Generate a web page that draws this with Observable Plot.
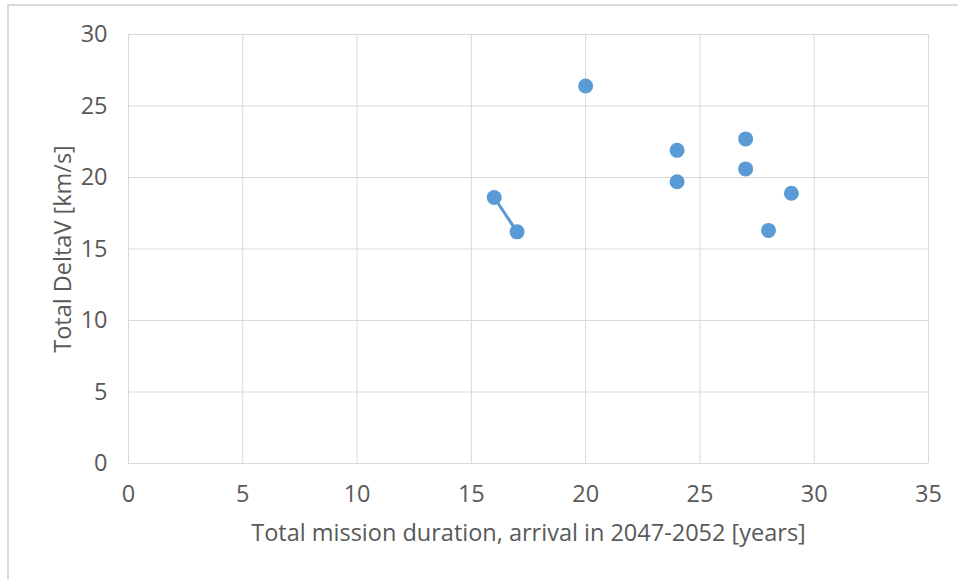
<!DOCTYPE html>
<html>
<head>
<meta charset="utf-8">
<script src="https://cdn.jsdelivr.net/npm/d3@7"></script>
<script src="https://cdn.jsdelivr.net/npm/@observablehq/plot@0.6"></script>
<style>
  html, body { margin: 0; padding: 0; background: #ffffff; }
  #wrap { position: relative; width: 958px; height: 579px; overflow: hidden; }
  #border { position: absolute; left: 7px; top: 4px; right: -10px; bottom: -10px;
            border-top: 2px solid #d9d9d9; border-left: 2px solid #d9d9d9; }
  #chart { position: absolute; left: 0; top: 0; }
</style>
</head>
<body>
<div id="wrap"><div id="border"></div><div id="chart"></div></div>
<script>
const duration = [16, 17, 20, 24, 24, 27, 27, 28, 29];
const deltaV = [18.6, 16.2, 26.4, 21.9, 19.7, 22.7, 20.6, 16.3, 18.9];
const group = ["a", "a", "b", "c", "d", "e", "f", "g", "h"];
const xTicks = [0, 5, 10, 15, 20, 25, 30, 35];
const yTicks = [0, 5, 10, 15, 20, 25, 30];
const xLabel = "Total mission duration, arrival in 2047-2052 [years]";
const yLabel = "Total DeltaV [km/s]";

const data = duration.map((d, i) => ({duration: d, deltaV: deltaV[i], group: group[i]}));

const color = "#5b9bd5";
const textColor = "#595959";
const gridColor = "#d9d9d9";
const font = "'Open Sans', sans-serif";
const fs = 23.5;

const chart = Plot.plot({
  width: 958,
  height: 579,
  marginLeft: 128,
  marginRight: 30,
  marginTop: 34,
  marginBottom: 116,
  style: {fontFamily: font, fontSize: fs + "px", color: textColor, background: "transparent", overflow: "visible"},
  x: {domain: [0, 35], ticks: xTicks},
  y: {domain: [0, 30], ticks: yTicks},
  marks: [
    Plot.gridX(xTicks, {stroke: gridColor, strokeOpacity: 1, strokeWidth: 1}),
    Plot.gridY(yTicks, {stroke: gridColor, strokeOpacity: 1, strokeWidth: 1}),
    Plot.axisX(xTicks, {tickSize: 0, tickPadding: 22, label: null, fill: textColor, fontSize: fs}),
    Plot.axisY(yTicks, {tickSize: 0, tickPadding: 21, label: null, fill: textColor, fontSize: fs}),
    Plot.text([xLabel], {frameAnchor: "bottom", lineAnchor: "middle", textAnchor: "middle", dy: 70, fill: textColor, fontSize: fs}),
    Plot.text([yLabel], {frameAnchor: "left", lineAnchor: "middle", textAnchor: "middle", dx: -65.5, rotate: -90, fill: textColor, fontSize: fs}),
    Plot.line(data, {x: "duration", y: "deltaV", z: "group", stroke: color, strokeWidth: 3}),
    Plot.dot(data, {x: "duration", y: "deltaV", r: 7.5, fill: color, stroke: null})
  ]
});
document.getElementById("chart").appendChild(chart);
</script>
</body>
</html>
